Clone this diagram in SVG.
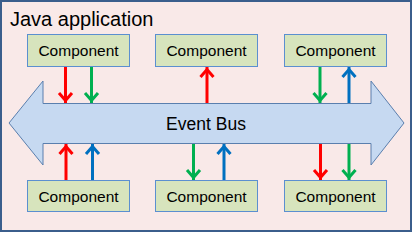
<svg xmlns="http://www.w3.org/2000/svg" width="413" height="233" viewBox="0 0 413 233">
<defs>
<style>
.frame{fill:#F9E9E8;stroke:#3B5E8C;stroke-width:2}
.box{fill:#D7E4BD;stroke:#5B8FD0;stroke-width:1}
.lbl{font-family:"Liberation Sans",Arial,sans-serif;font-size:15.5px;fill:#000;text-anchor:middle}
.title{font-family:"Liberation Sans",Arial,sans-serif;font-size:20px;fill:#000}
.bus{fill:#C6D9F1;stroke:#5A7FAE;stroke-width:1}
.bustxt{font-family:"Liberation Sans",Arial,sans-serif;font-size:17.5px;fill:#000;text-anchor:middle}
.a{fill:none;stroke-width:3}
.r{stroke:#FF0000}
.g{stroke:#00B050}
.b{stroke:#0070C0}
</style>
<marker id="mr" markerUnits="userSpaceOnUse" viewBox="-14 -9 16 18" refX="0" refY="0" markerWidth="16" markerHeight="18" orient="auto" overflow="visible">
<path d="M-10,-6.5 L-2.5,0 L-10,6.5" fill="none" stroke="#FF0000" stroke-width="3"/>
</marker>
<marker id="mg" markerUnits="userSpaceOnUse" viewBox="-14 -9 16 18" refX="0" refY="0" markerWidth="16" markerHeight="18" orient="auto" overflow="visible">
<path d="M-10,-6.5 L-2.5,0 L-10,6.5" fill="none" stroke="#00B050" stroke-width="3"/>
</marker>
<marker id="mb" markerUnits="userSpaceOnUse" viewBox="-14 -9 16 18" refX="0" refY="0" markerWidth="16" markerHeight="18" orient="auto" overflow="visible">
<path d="M-10,-6.5 L-2.5,0 L-10,6.5" fill="none" stroke="#0070C0" stroke-width="3"/>
</marker>
</defs>
<rect class="frame" x="1" y="1" width="410" height="230"/>
<text class="title" x="10" y="26">Java application</text>
<g id="eventbus">
<polygon class="bus" points="9,123 43,81 43,103.5 371,103.5 371,81 404,123 371,165 371,143.5 43,143.5 43,165"/>
<text class="bustxt" x="206" y="130">Event Bus</text>
</g>
<g id="c1"><rect class="box" x="27.5" y="34.5" width="102" height="32"/><text class="lbl" x="78.5" y="56">Component</text></g>
<g id="c2"><rect class="box" x="155.5" y="34.5" width="102" height="32"/><text class="lbl" x="206.5" y="56">Component</text></g>
<g id="c3"><rect class="box" x="284.5" y="34.5" width="102" height="32"/><text class="lbl" x="335.5" y="56">Component</text></g>
<g id="c4"><rect class="box" x="27.5" y="180.5" width="102" height="31"/><text class="lbl" x="78.5" y="201.5">Component</text></g>
<g id="c5"><rect class="box" x="155.5" y="180.5" width="102" height="31"/><text class="lbl" x="206.5" y="201.5">Component</text></g>
<g id="c6"><rect class="box" x="284.5" y="180.5" width="102" height="31"/><text class="lbl" x="335.5" y="201.5">Component</text></g>
<g id="connectors">
<line class="a r" x1="65.5" y1="67" x2="65.5" y2="103" marker-end="url(#mr)"/>
<line class="a g" x1="91.5" y1="67" x2="91.5" y2="103" marker-end="url(#mg)"/>
<line class="a r" x1="207" y1="103" x2="207" y2="67" marker-end="url(#mr)"/>
<line class="a g" x1="320" y1="67" x2="320" y2="103" marker-end="url(#mg)"/>
<line class="a b" x1="349" y1="103" x2="349" y2="67" marker-end="url(#mb)"/>
<line class="a r" x1="66" y1="180" x2="66" y2="144" marker-end="url(#mr)"/>
<line class="a b" x1="92.5" y1="180" x2="92.5" y2="144" marker-end="url(#mb)"/>
<line class="a g" x1="193.5" y1="144" x2="193.5" y2="180" marker-end="url(#mg)"/>
<line class="a b" x1="224" y1="180" x2="224" y2="144" marker-end="url(#mb)"/>
<line class="a r" x1="320.5" y1="144" x2="320.5" y2="180" marker-end="url(#mr)"/>
<line class="a g" x1="349" y1="144" x2="349" y2="180" marker-end="url(#mg)"/>
</g>
</svg>
